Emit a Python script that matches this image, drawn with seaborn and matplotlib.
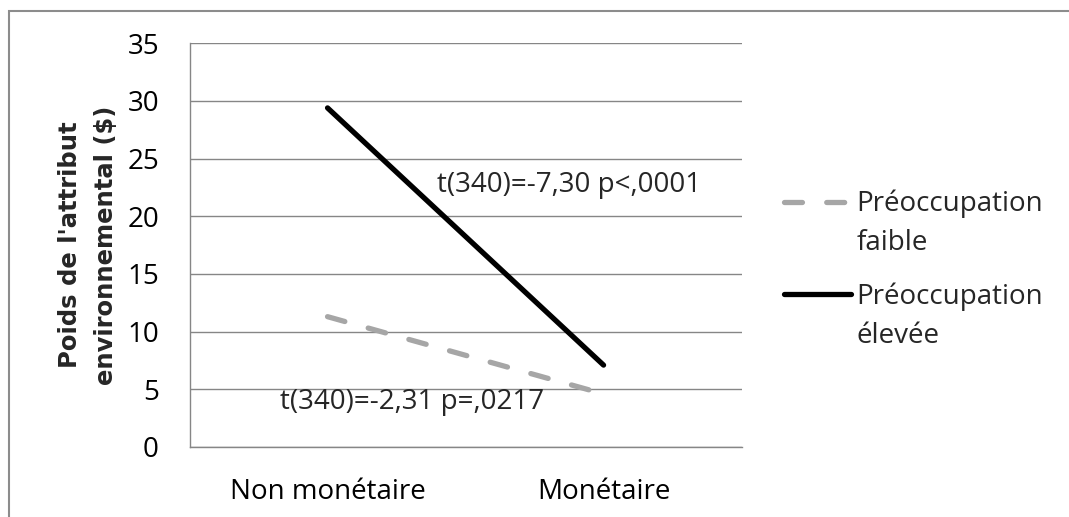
import matplotlib
matplotlib.use("Agg")
import matplotlib.pyplot as plt
import pandas as pd
import seaborn as sns
from matplotlib.patches import Rectangle

# Data
categories = ["Non monétaire", "Monétaire"]
groups = ["Préoccupation faible", "Préoccupation élevée"]
faible = [11.3, 4.6]
elevee = [29.4, 7.1]
yticks = [0, 5, 10, 15, 20, 25, 30, 35]
notes = ["t(340)=-7,30 p<,0001", "t(340)=-2,31 p=,0217"]

df = pd.DataFrame({
    "condition": categories * 2,
    "groupe": [groups[0]] * 2 + [groups[1]] * 2,
    "poids": faible + elevee,
})

sns.set_theme(style="white")
plt.rcParams["font.family"] = ["Open Sans", "DejaVu Sans"]
fs = 20
W, H = 1069, 517

fig = plt.figure(figsize=(W / 100, H / 100), dpi=100)
ax = fig.add_axes([0.1773, 0.1354, 0.5164, 0.7808])

sns.lineplot(data=df, x="condition", y="poids", hue="groupe", style="groupe",
             palette={groups[0]: "#a6a6a6", groups[1]: "black"},
             dashes={groups[0]: (3.4, 4.6), groups[1]: ""},
             linewidth=3.8, sort=False, legend=False, ax=ax)
for line in ax.lines:
    line.set_dash_capstyle("round")
    line.set_solid_capstyle("round")

# Axes styling (Excel look)
ax.set_xlim(-0.5, 1.5)
ax.set_ylim(0, 35)
ax.set_yticks(yticks)
ax.yaxis.grid(True, color="#868686", linewidth=1.0)
ax.set_axisbelow(True)
for side in ["top", "right"]:
    ax.spines[side].set_visible(False)
for side in ["left", "bottom"]:
    ax.spines[side].set_color("#868686")
    ax.spines[side].set_linewidth(1.0)
ax.tick_params(axis="both", length=0, pad=22, labelsize=fs, colors="black")
ax.set_xlabel("")
ax.set_ylabel("Poids de l'attribut\nenvironnemental ($)", fontsize=17.5,
              fontweight="bold", family="DejaVu Sans", linespacing=1.6)
ax.yaxis.set_label_coords(-0.13, 0.5)

# t-test annotations
ax.text(0.397, 22.7, notes[0], va="center", fontsize=fs)
ax.text(-0.172, 3.9, notes[1], va="center", fontsize=fs)

# Legend: handle next to first line of each label
leg = ax.legend(handles=ax.lines, labels=["Préoccupation", "Préoccupation"],
                loc="upper left", bbox_to_anchor=(784 / W, 1 - 190 / H),
                bbox_transform=fig.transFigure, frameon=False, borderpad=0,
                borderaxespad=0, handlelength=2.4, handletextpad=0.2,
                labelspacing=2.3, fontsize=fs)
fig.canvas.draw()
for txt, extra in zip(leg.get_texts(), ["faible", "élevée"]):
    bb = txt.get_window_extent()
    fig.text(bb.x0 / W, ((bb.y0 + bb.y1) / 2 - 39) / H, extra,
             va="center", fontsize=fs)

# Outer chart border
fig.add_artist(Rectangle((8.5 / W, -0.1), 1.2, 1 - 11 / H + 0.1,
                         transform=fig.transFigure, fill=False,
                         edgecolor="#8c8c8c", linewidth=1.5))

fig.savefig("out.png", dpi=100)
